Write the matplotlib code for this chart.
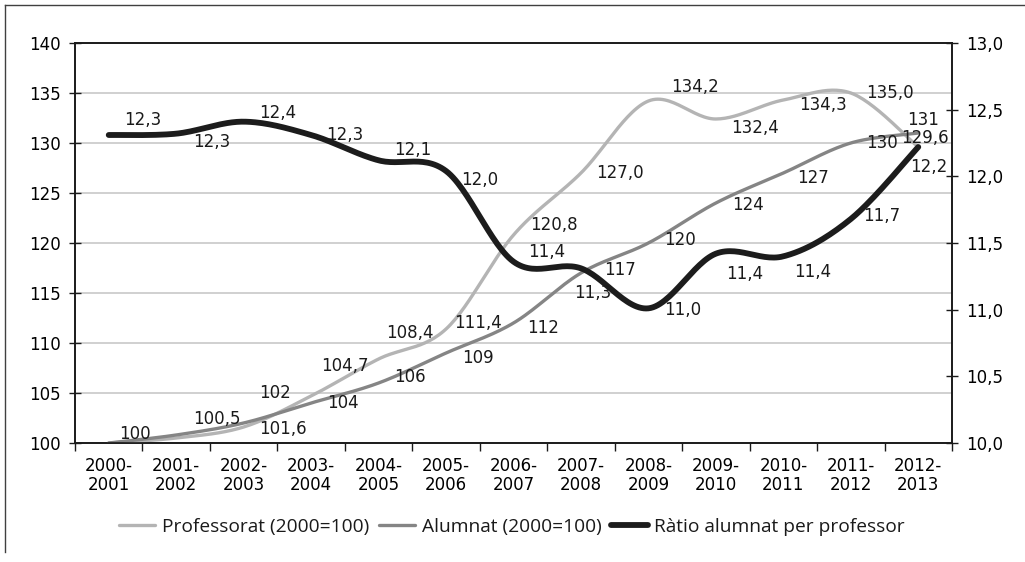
import numpy as np
import matplotlib
matplotlib.use("Agg")
import matplotlib.pyplot as plt
from matplotlib.lines import Line2D

plt.rcParams['font.family'] = ['DejaVu Sans']
plt.rcParams['font.size'] = 12
plt.rcParams['text.color'] = '#1a1a1a'

cursos = ["2000-\n2001", "2001-\n2002", "2002-\n2003", "2003-\n2004", "2004-\n2005",
          "2005-\n2006", "2006-\n2007", "2007-\n2008", "2008-\n2009", "2009-\n2010",
          "2010-\n2011", "2011-\n2012", "2012-\n2013"]

professorat = [100.0, 100.5, 101.6, 104.7, 108.4, 111.4, 120.8, 127.0, 134.2, 132.4, 134.3, 135.0, 129.6]
alumnat = [100.0, 100.8, 102.0, 104.0, 106.0, 109.0, 112.0, 117.0, 120.0, 124.0, 127.0, 130.0, 131.0]
ratio = [12.31, 12.32, 12.41, 12.31, 12.12, 12.04, 11.36, 11.31, 11.01, 11.42, 11.40, 11.68, 12.22]

# which points carry a label (alumnat 2000 and 2001 are not labelled)
prof_lab = [True] * 13
alum_lab = [False, False] + [True] * 11
ratio_lab = [True] * 13

# label offsets in pixels (dx, dy), dy positive = up
prof_off = [(26, 9), (41, 19), (39, -2), (34, 30), (31, 26), (32, 6), (40, 10),
            (39, 0), (47, 14), (39, -9), (40, -5), (39, 0), (7, 9)]
alum_off = [(0, 0), (0, 0), (31, 30), (32, 0), (31, 6), (32, -5), (30, -5),
            (39, 3), (32, 3), (32, -2), (30, -5), (31, 0), (5, 13)]
ratio_off = [(34, 15), (36, -8), (34, 9), (34, 0), (34, 10), (34, -9), (33, 10),
             (12, -25), (34, -2), (29, -20), (29, -16), (31, 3), (10, -20)]


def smooth(x, y, n=30):
    # Catmull-Rom style bezier, like the spreadsheet "smoothed line"
    x = np.asarray(x, float)
    y = np.asarray(y, float)
    px = np.concatenate([[x[0]], x, [x[-1]]])
    py = np.concatenate([[y[0]], y, [y[-1]]])
    xs, ys = [], []
    t = np.linspace(0, 1, n)
    for i in range(len(x) - 1):
        p0 = np.array([px[i + 1], py[i + 1]])
        p3 = np.array([px[i + 2], py[i + 2]])
        c1 = p0 + (p3 - np.array([px[i], py[i]])) / 6
        c2 = p3 - (np.array([px[i + 3], py[i + 3]]) - p0) / 6
        b = ((1 - t) ** 3)[:, None] * p0 + (3 * (1 - t) ** 2 * t)[:, None] * c1 \
            + (3 * (1 - t) * t ** 2)[:, None] * c2 + (t ** 3)[:, None] * p3
        xs.extend(b[:, 0])
        ys.extend(b[:, 1])
    return np.array(xs), np.array(ys)


def fmt(v, dec):
    return (f"{v:.{dec}f}").replace(".", ",")


fig = plt.figure(figsize=(10.25, 5.62), dpi=100)
ax = fig.add_axes([75 / 1025, 1 - 443 / 562, 877 / 1025, 400 / 562])
ax2 = ax.twinx()

xs = np.arange(len(cursos))
c_prof = '#b4b4b4'
c_alum = '#858585'
c_rat = '#1c1c1c'

sx, sy = smooth(xs, professorat)
ax.plot(sx, sy, color=c_prof, lw=2.4, solid_capstyle='round', label='Professorat (2000=100)', zorder=3)
sx, sy = smooth(xs, alumnat)
ax.plot(sx, sy, color=c_alum, lw=2.4, solid_capstyle='round', label='Alumnat (2000=100)', zorder=3)
sx, sy = smooth(xs, ratio)
ax2.plot(sx, sy, color=c_rat, lw=4.2, solid_capstyle='round', label='Ràtio alumnat per professor', zorder=3)

for i in range(len(xs)):
    if prof_lab[i]:
        ax.annotate(fmt(professorat[i], 0 if i == 0 else 1), (xs[i], professorat[i]),
                    xytext=prof_off[i], textcoords='offset pixels', ha='center', va='center')
    if alum_lab[i]:
        ax.annotate(fmt(alumnat[i], 0), (xs[i], alumnat[i]),
                    xytext=alum_off[i], textcoords='offset pixels', ha='center', va='center')
    if ratio_lab[i]:
        ax2.annotate(fmt(ratio[i], 1), (xs[i], ratio[i]),
                     xytext=ratio_off[i], textcoords='offset pixels', ha='center', va='center')

ax.set_xlim(-0.5, len(cursos) - 0.5)
ax.set_ylim(100, 140)
ax.set_yticks(np.arange(100, 141, 5))
ax.set_xticks(xs)
ax.set_xticklabels(cursos, linespacing=1.1)
ax.set_xticks(np.arange(-0.5, len(cursos), 1), minor=True)
ax.tick_params(axis='x', which='major', length=0, pad=10)
ax.tick_params(axis='x', which='minor', length=6, width=1, direction='out', color='#1a1a1a')
ax.tick_params(axis='y', length=8, width=1, direction='inout', pad=6, color='#1a1a1a')
ax.yaxis.grid(True, color='#c8c8c8', lw=1.2)
ax.set_axisbelow(True)

ax2.set_ylim(10, 13)
ax2.set_yticks(np.arange(10, 13.01, 0.5))
ax2.set_yticklabels([fmt(v, 1) for v in np.arange(10, 13.01, 0.5)])
ax2.tick_params(axis='y', length=8, width=1, direction='inout', pad=6, color='#1a1a1a')

for a in (ax, ax2):
    for s in a.spines.values():
        s.set_color('#1a1a1a')
        s.set_linewidth(1.2)

h1, l1 = ax.get_legend_handles_labels()
h2, l2 = ax2.get_legend_handles_labels()
fig.legend(h1 + h2, l1 + l2, loc='center', bbox_to_anchor=(512 / 1025, 1 - 527 / 562), ncol=3,
           frameon=False, handlelength=1.9, handletextpad=0.35, columnspacing=0.5,
           prop={'family': 'Open Sans', 'size': 13.8})

# outer frame
fig.add_artist(Line2D([5 / 1025, 1], [1 - 5 / 562] * 2, transform=fig.transFigure, color='#404040', lw=1))
fig.add_artist(Line2D([5 / 1025] * 2, [1 - 5 / 562, 1 - 552 / 562], transform=fig.transFigure, color='#404040', lw=1))

fig.savefig("out.png", dpi=100)
